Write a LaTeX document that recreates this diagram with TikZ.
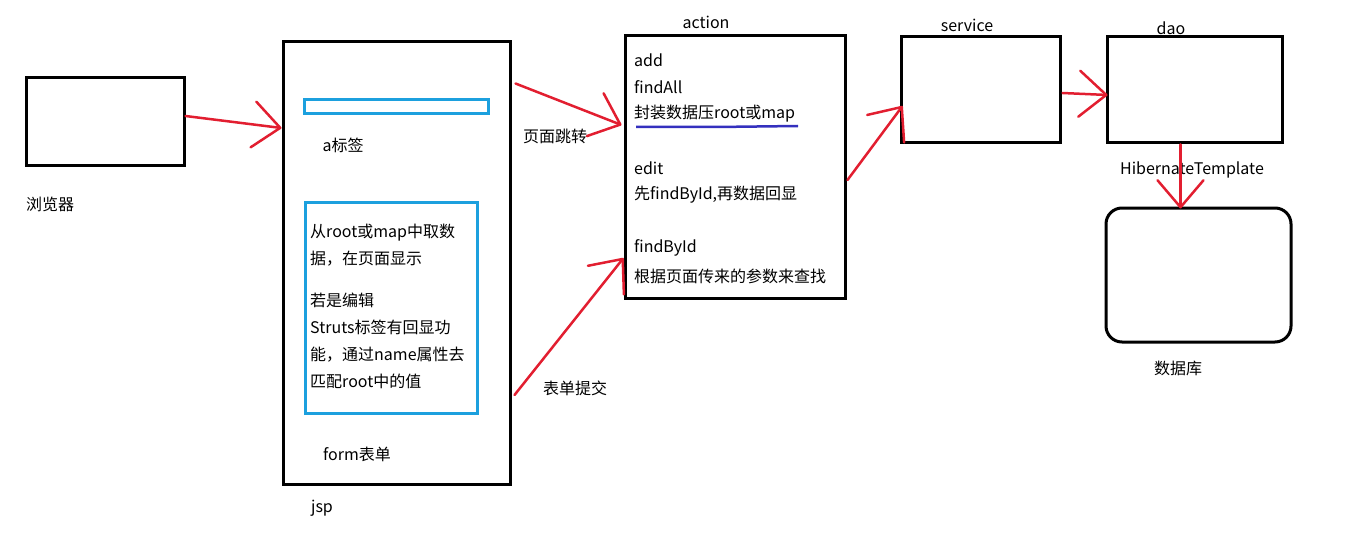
\documentclass[tikz,border=0pt]{standalone}
\usepackage{fontspec}
\setmainfont{Noto Sans CJK SC}
\usetikzlibrary{arrows.meta,calc}
\definecolor{penred}{RGB}{226,30,48}
\definecolor{boxblue}{RGB}{28,160,222}
\definecolor{inkblue}{RGB}{52,48,190}

\begin{document}
\begin{tikzpicture}[x=1pt,y=-1pt,
  font=\fontsize{16}{27}\selectfont,
  box/.style={draw=black,line width=3pt,inner sep=0pt},
  bluebox/.style={draw=boxblue,line width=3pt,inner sep=0pt},
  redarrow/.style={penred,line width=2.5pt,line cap=round,
    -{Straight Barb[length=27pt,width=46pt,round]}},
  txt/.style={anchor=west,inner sep=0pt}]
  \useasboundingbox (0,0) rectangle (1356,540);

  % Browser
  \node[box,minimum width=158pt,minimum height=88pt] (browser) at (105,122) {};
  \node[txt] (browserlbl) at (26,204) {浏览器};

  % JSP page with link and form
  \node[box,minimum width=227pt,minimum height=442pt] (jsp) at (396.5,263) {};
  \node (jsplbl) at (322,508) {jsp};
  \node[bluebox,minimum width=184pt,minimum height=14pt] (alink) at (396,107) {};
  \node (alinklbl) at (343,145) {a标签};
  \node[bluebox,minimum width=172pt,minimum height=211pt] (formbox) at (391,307.5) {};
  \node[txt,align=left] (formtxt) at (310,306)
    {从root或map中取数\\据，在页面显示\\[15pt]若是编辑\\Struts标签有回显功\\能，通过name属性去\\匹配root中的值};
  \node (formlbl) at (357,454) {form表单};

  % Action
  \node[box,minimum width=220pt,minimum height=262pt] (action) at (735,167) {};
  \node (actionlbl) at (706,22) {action};
  \node[txt] (add) at (634,60) {add};
  \node[txt] (findall) at (634,87) {findAll};
  \node[txt] (wrap) at (634,114) {封装数据压root或map};
  \draw[inkblue,line width=2.5pt] (636,127) -- (716,127) -- (798,126);
  \node[txt] (edit) at (634,168) {edit};
  \node[txt] (editdesc) at (634,195) {先findById,再数据回显};
  \node[txt] (findbyid) at (634,248) {findById};
  \node[txt] (finddesc) at (634,276) {根据页面传来的参数来查找};

  % Service, dao, database
  \node[box,minimum width=159pt,minimum height=106pt] (service) at (980.5,90) {};
  \node (servicelbl) at (967,25) {service};
  \node[box,minimum width=175pt,minimum height=106pt] (dao) at (1194.5,90) {};
  \node (daolbl) at (1171,28) {dao};
  \node[box,rounded corners=16pt,minimum width=185pt,minimum height=134pt] (db) at (1198.5,275) {};
  \node (dblbl) at (1178,368) {数据库};
  \node (hibernate) at (1192,170) {HibernateTemplate};

  % Flows
  \draw[redarrow] ($(browser.east)+(0,-6)$) -- ($(browser.east -| jsp.west)+(0,6)$);
  \draw[redarrow] ($(jsp.north east)+(4,43)$) -- ($(action.west)+(-2,-42)$);
  \node (jumplbl) at (555,136) {页面跳转};
  \draw[redarrow] ($(jsp.east)+(3,132)$) -- ($(action.west)+(0,91)$);
  \node (submitlbl) at (575,388) {表单提交};
  \draw[redarrow] ($(action.east)+(1,13)$) -- ($(service.west)+(3,16)$);
  \draw[redarrow] ($(service.east)+(1,3)$) -- ($(dao.west)+(2,5)$);
  \draw[redarrow] ($(dao.south)+(-14,0)$) -- ($(db.north)+(-18,2)$);
\end{tikzpicture}
\end{document}
